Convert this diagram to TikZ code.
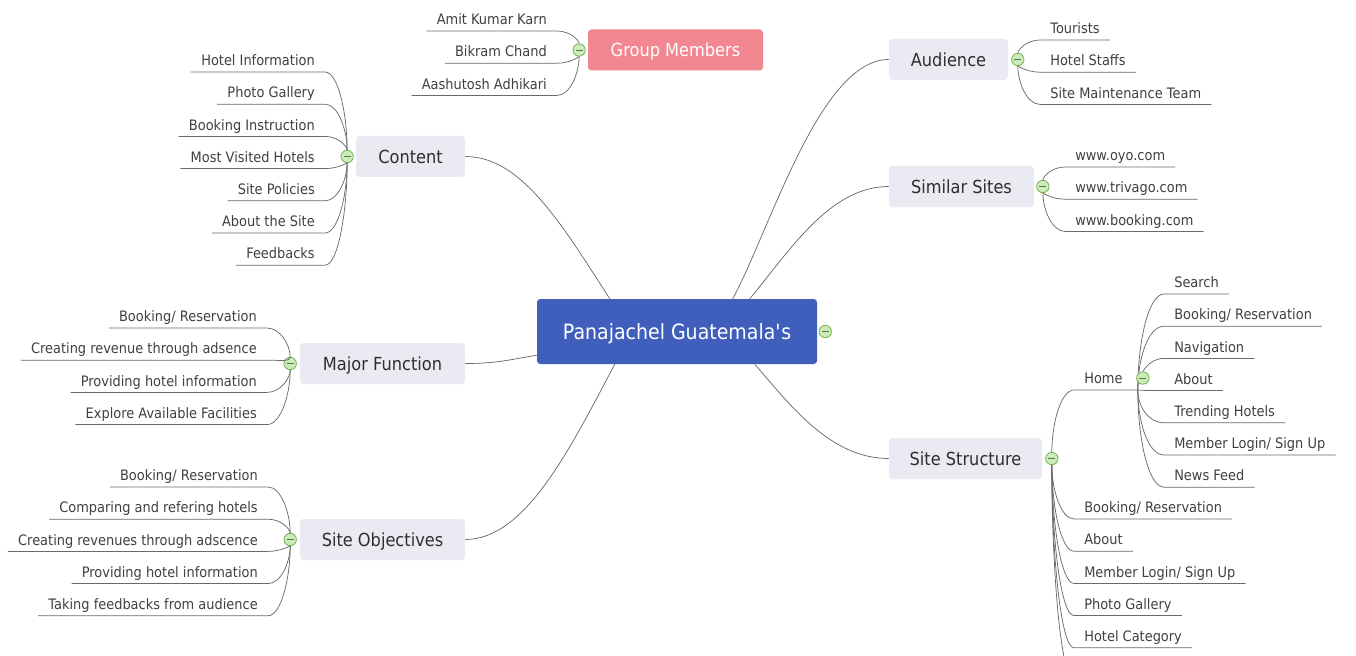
\documentclass[tikz,border=0pt]{standalone}
\usepackage{fontspec}
\setmainfont{DejaVu Sans}[FakeStretch=0.9]
\usetikzlibrary{positioning,calc}
\definecolor{rootblue}{RGB}{64,94,187}
\definecolor{memberpink}{RGB}{242,135,145}
\definecolor{topicgray}{RGB}{234,234,243}
\definecolor{branchgray}{RGB}{105,105,105}
\definecolor{togglefill}{RGB}{205,235,185}
\definecolor{toggledraw}{RGB}{115,175,85}
\definecolor{textgray}{RGB}{64,64,64}

\begin{document}
\begin{tikzpicture}[
  x=0.75pt, y=-0.75pt,
  root/.style={
    rectangle, rounded corners=2.5pt, fill=rootblue, text=white,
    minimum width=210pt, minimum height=48.75pt,
    text height=11.5pt, text depth=0pt,
    font=\fontsize{15.8}{18}\selectfont
  },
  topic/.style={
    rectangle, rounded corners=2.5pt, fill=topicgray, text=black!82,
    minimum height=30.75pt, inner sep=0pt,
    text height=9.8pt, text depth=0pt,
    font=\fontsize{13.5}{16}\selectfont
  },
  leaf/.style={
    inner xsep=7.5pt, inner ysep=4.5pt, text depth=0pt, text height=8pt,
    text=textgray, font=\fontsize{10.8}{13}\selectfont
  },
  leafl/.style={leaf, anchor=south east},
  leafr/.style={leaf, anchor=south west},
  toggle/.style={
    circle, draw=toggledraw, fill=togglefill, line width=0.6pt,
    inner sep=0pt, minimum size=9.3pt,
    path picture={
      \draw[toggledraw!70!black, line width=0.6pt]
        ([xshift=-2.6pt]path picture bounding box.center) --
        ([xshift=2.6pt]path picture bounding box.center);
    }
  },
  branch/.style={draw=branchgray, line width=0.55pt},
  leafedge/.style={
    to path={.. controls ($(\tikztostart)!0.5!(\tikztostart|-\tikztotarget)$)
      and ($(\tikztotarget)!0.6!(\tikztostart|-\tikztotarget)$) .. (\tikztotarget)}
  }
]
  \useasboundingbox (0,0) rectangle (1356,656);

  \node[root] (root) at (677,331.5) {Panajachel Guatemala\textquotesingle s};
  \node[toggle, right=1pt of root] (roottg) {};

  \node[topic, fill=memberpink, text=white, minimum width=131.25pt] (members) at (675.5,50) {Group Members};
  \node[toggle, left=1.5pt of members] (memberstg) {};
  \foreach \txt [count=\i] in {Amit Kumar Karn, Bikram Chand, Aashutosh Adhikari} {
    \node[leafl] (members\i) at (557,-1.2+32.2*\i) {\txt};
    \draw[branch] (memberstg) to[leafedge] (members\i.south east) -- (members\i.south west);
  }

  \node[topic, minimum width=81.75pt] (content) at (410.5,156.5) {Content};
  \node[toggle, left=1.5pt of content] (contenttg) {};
  \foreach \txt [count=\i] in {Hotel Information, Photo Gallery, Booking Instruction,
      Most Visited Hotels, Site Policies, About the Site, Feedbacks} {
    \node[leafl] (content\i) at (325,39.8+32.2*\i) {\txt};
    \draw[branch] (contenttg) to[leafedge] (content\i.south east) -- (content\i.south west);
  }

  \node[topic, minimum width=123.75pt] (function) at (382.5,363.5) {Major Function};
  \node[toggle, left=2.2pt of function] (functiontg) {};
  \foreach \txt [count=\i] in {Booking/ Reservation, Creating revenue through adsence,
      Providing hotel information, Explore Available Facilities} {
    \node[leafl] (function\i) at (267,295.8+32.2*\i) {\txt};
    \draw[branch] (functiontg) to[leafedge] (function\i.south east) -- (function\i.south west);
  }

  \node[topic, minimum width=123.75pt] (objectives) at (382.5,539.5) {Site Objectives};
  \node[toggle, left=2.2pt of objectives] (objectivestg) {};
  \foreach \txt [count=\i] in {Booking/ Reservation, Comparing and refering hotels,
      Creating revenues through adscence, Providing hotel information,
      Taking feedbacks from audience} {
    \node[leafl] (objectives\i) at (268,454.8+32.2*\i) {\txt};
    \draw[branch] (objectivestg) to[leafedge] (objectives\i.south east) -- (objectives\i.south west);
  }

  \node[topic, minimum width=89.25pt] (audience) at (948.5,59.5) {Audience};
  \node[toggle, right=2.2pt of audience] (audiencetg) {};
  \foreach \txt [count=\i] in {Tourists, Hotel Staffs, Site Maintenance Team} {
    \node[leafr] (audience\i) at (1040,7.8+32.2*\i) {\txt};
    \draw[branch] (audiencetg) to[leafedge] (audience\i.south west) -- (audience\i.south east);
  }

  \node[topic, minimum width=108.75pt] (similar) at (961.5,186.5) {Similar Sites};
  \node[toggle, right=1.5pt of similar] (similartg) {};
  \foreach \txt [count=\i] in {www.oyo.com, www.trivago.com, www.booking.com} {
    \node[leafr] (similar\i) at (1065,134.8+32.2*\i) {\txt};
    \draw[branch] (similartg) to[leafedge] (similar\i.south west) -- (similar\i.south east);
  }

  \node[topic, minimum width=114.75pt] (structure) at (965.5,458.5) {Site Structure};
  \node[toggle, right=2.2pt of structure] (structuretg) {};
  \node[leafr] (home) at (1074,390) {Home};
  \coordinate (homejn) at ([xshift=3.75pt]home.south east);
  \draw[branch] (structuretg) to[leafedge] (home.south west) -- (homejn);
  \foreach \txt [count=\i] in {Search, Booking/ Reservation, Navigation, About,
      Trending Hotels, Member Login/ Sign Up, News Feed} {
    \node[leafr] (home\i) at (1164,261.8+32.2*\i) {\txt};
    \draw[branch] (homejn) to[leafedge] (home\i.south west) -- (home\i.south east);
  }
  \node[toggle] (hometg) at ([xshift=3.75pt,yshift=9pt]homejn) {};
  \foreach \txt [count=\i] in {Booking/ Reservation, About, Member Login/ Sign Up,
      Photo Gallery, Hotel Category} {
    \node[leafr] (structure\i) at (1074,486.8+32.2*\i) {\txt};
    \draw[branch] (structuretg) to[leafedge] (structure\i.south west) -- (structure\i.south east);
  }
  \coordinate (structuremore) at (1074,680);
  \draw[branch] (structuretg) to[leafedge] (structuremore);

  \draw[branch] ([xshift=54.75pt]root.north west) .. controls +(-50,-78) and +(55,0) .. (content.east);
  \draw[branch] ([yshift=6.75pt]root.south west) .. controls +(-30,5) and +(30,0) .. (function.east);
  \draw[branch] ([xshift=58.5pt]root.south west) .. controls +(-45,85) and +(60,0) .. (objectives.east);
  \draw[branch] ([xshift=147pt]root.north west) .. controls +(37,-68) and +(-69,0) .. (audience.west);
  \draw[branch] ([xshift=159.75pt]root.north west) .. controls +(40,-48) and +(-59,0) .. (similar.west);
  \draw[branch] ([xshift=163.5pt]root.south west) .. controls +(35,40) and +(-59,0) .. (structure.west);
\end{tikzpicture}
\end{document}
